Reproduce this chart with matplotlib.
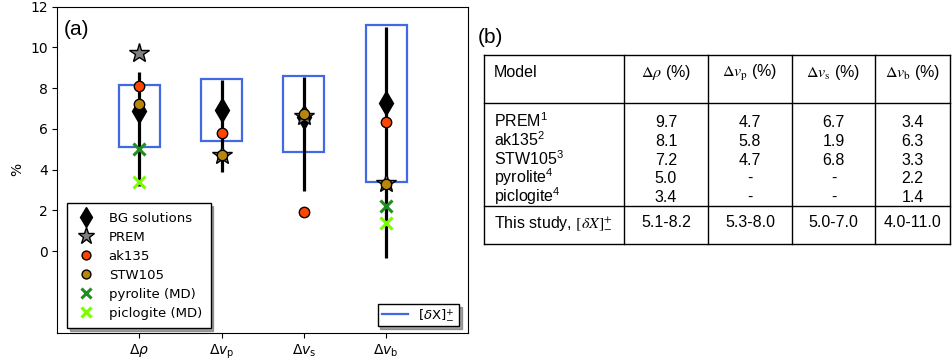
import numpy as np
import matplotlib
matplotlib.use("Agg")
import matplotlib.pyplot as plt
from matplotlib.lines import Line2D

plt.rcParams['mathtext.rm'] = 'Liberation Sans'
plt.rcParams['mathtext.it'] = 'Liberation Sans:italic'
plt.rcParams['mathtext.bf'] = 'Liberation Sans:bold'

# ---------------- data ----------------
quantities = [r'$\Delta\rho$', r'$\Delta v_\mathrm{p}$', r'$\Delta v_\mathrm{s}$', r'$\Delta v_\mathrm{b}$']
bg_center = [6.9, 6.95, 6.6, 7.25]
bg_low = [3.2, 3.9, 2.95, -0.35]
bg_high = [8.8, 8.4, 8.55, 11.0]
box_low = [5.1, 5.4, 4.85, 3.4]
box_high = [8.15, 8.47, 8.6, 11.1]
prem = [9.75, 4.7, 6.65, 3.35]
ak135 = [8.1, 5.8, 1.9, 6.35]
stw105 = [7.2, 4.7, 6.75, 3.3]
pyrolite = [5.0, np.nan, np.nan, 2.2]
piclogite = [3.4, np.nan, np.nan, 1.4]
yticks = [0, 2, 4, 6, 8, 10, 12]

table_header = ['Model', r'$\Delta\rho$ (%)', r'$\Delta v_\mathrm{p}$ (%)',
                r'$\Delta v_\mathrm{s}$ (%)', r'$\Delta v_\mathrm{b}$ (%)']
table_models = ['PREM$^1$', 'ak135$^2$', 'STW105$^3$', 'pyrolite$^4$', 'piclogite$^4$']
table_values = [
    ['9.7', '4.7', '6.7', '3.4'],
    ['8.1', '5.8', '1.9', '6.3'],
    ['7.2', '4.7', '6.8', '3.3'],
    ['5.0', '-', '-', '2.2'],
    ['3.4', '-', '-', '1.4'],
]
study_label = ['This study, ', r'$[\delta X]^{+}_{-}$']
study_values = ['5.1-8.2', '5.3-8.0', '5.0-7.0', '4.0-11.0']

# ---------------- figure ----------------
W, H = 953, 364
fig = plt.figure(figsize=(W / 100, H / 100), dpi=100)

ax = fig.add_axes([57.3 / W, 1 - 332.7 / H, 411 / W, 326 / H])
x = np.arange(1, len(quantities) + 1)

ax.bar(x, np.array(box_high) - np.array(box_low), bottom=box_low, width=0.5,
       fill=False, edgecolor='royalblue', linewidth=1.6, zorder=1)
ax.vlines(x, bg_low, bg_high, color='k', linewidth=2.3, zorder=2)
ax.plot(x, bg_center, ls='none', marker='d', color='k', ms=12, zorder=3, label='BG solutions')
ax.plot(x, prem, ls='none', marker='*', mfc='grey', mec='k', ms=15, zorder=4, label='PREM')
ax.plot(x, ak135, ls='none', marker='o', mfc='orangered', mec='k', ms=7.5, zorder=5, label='ak135')
ax.plot(x, stw105, ls='none', marker='o', mfc='darkgoldenrod', mec='k', ms=7.5, zorder=6, label='STW105')
ax.plot(x, pyrolite, ls='none', marker='x', color='forestgreen', ms=8, mew=2.2, zorder=7, label='pyrolite (MD)')
ax.plot(x, piclogite, ls='none', marker='x', color='lawngreen', ms=8, mew=2.2, zorder=8, label='piclogite (MD)')

ax.set_xlim(0, 5)
ax.set_ylim(-4, 12)
ax.set_yticks(yticks)
ax.set_xticks(x)
ax.set_xticklabels(quantities, math_fontfamily='dejavusans')
ax.tick_params(labelsize=10)
ax.set_ylabel('%', fontsize=10)
ax.text(0.015, 0.96, '(a)', transform=ax.transAxes, fontsize=15,
        family='Liberation Sans', ha='left', va='top')

leg1 = ax.legend(loc='lower left', bbox_to_anchor=(0.024, 0.014), borderaxespad=0,
                 fancybox=False, shadow=True, edgecolor='black', framealpha=1,
                 fontsize=9.5, handlelength=1.6, handletextpad=0.9, labelspacing=0.45,
                 borderpad=0.65, markerscale=0.85)
ax.add_artist(leg1)
box_handle = Line2D([], [], color='royalblue', linewidth=1.6)
leg2 = ax.legend([box_handle], [r'$[\delta \mathrm{X}]^{+}_{-}$'], loc='lower right',
                 bbox_to_anchor=(0.977, 0.02), borderaxespad=0, fancybox=False, shadow=True,
                 edgecolor='black', framealpha=1, fontsize=9.5, handlelength=2.0,
                 handletextpad=0.8, borderpad=0.3)
for t in leg2.get_texts():
    t.set_math_fontfamily('dejavusans')

# ---------------- table panel (b) ----------------
axt = fig.add_axes([0, 0, 1, 1])
axt.set_xlim(0, W)
axt.set_ylim(H, 0)
axt.axis('off')
axt.patch.set_visible(False)

tf = dict(family=['Liberation Sans', 'DejaVu Sans'], fontsize=11.5)
axt.text(478, 43, '(b)', family='Liberation Sans', fontsize=15, ha='left', va='baseline')

left, right = 484, 950
top, hbot, dbot, bot = 55, 103, 206, 244
vcols = [624, 708, 792, 875]
lw = 1.0
for yy in (top, hbot, dbot, bot):
    axt.plot([left, right], [yy, yy], color='k', lw=lw)
for xx in [left] + vcols + [right]:
    axt.plot([xx, xx], [top, bot], color='k', lw=lw)

edges = vcols + [right]
centers = [(edges[i] + edges[i + 1]) / 2 for i in range(4)]

axt.text(494, 76.7, table_header[0], ha='left', va='baseline', **tf)
for c, h in zip(centers, table_header[1:]):
    axt.text(c, 76.7, h, ha='center', va='baseline', math_fontfamily='stix', **tf)

row_y = [127.3, 146, 164.7, 183.3, 202]
for yy, m, vals in zip(row_y, table_models, table_values):
    axt.text(494, yy, m, ha='left', va='baseline', math_fontfamily='custom', **tf)
    for c, v in zip(centers, vals):
        axt.text(c, yy, v, ha='center', va='baseline', **tf)

axt.text(494, 226.7, study_label[0] + study_label[1], ha='left', va='baseline',
         math_fontfamily='stix', **tf)
for c, v in zip(centers, study_values):
    axt.text(c, 226.7, v, ha='center', va='baseline', **tf)

fig.savefig('out.png', dpi=100)
